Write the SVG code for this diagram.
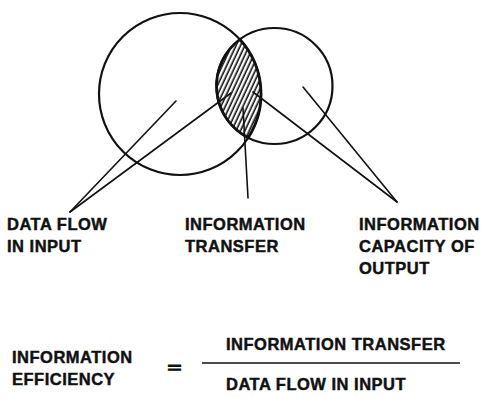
<svg xmlns="http://www.w3.org/2000/svg" width="484" height="398" viewBox="0 0 484 398">
<style>
  .lbl { font-family: "Liberation Sans", Arial, sans-serif; font-weight: bold; font-size: 16.5px; letter-spacing: 0.5px; fill: #111; stroke: #111; stroke-width: 0.45px; }
  .circ { fill: none; stroke: #111; stroke-width: 2.2; }
  .conn { stroke: #111; stroke-width: 1.6; fill: none; stroke-linecap: round; }
</style>
<defs>
  <pattern id="hatch" patternUnits="userSpaceOnUse" width="4" height="8" patternTransform="rotate(25)">
    <rect width="4" height="8" fill="#fff"/>
    <line x1="1.2" y1="0" x2="1.2" y2="8" stroke="#000" stroke-width="1.5"/>
  </pattern>
</defs>
<rect width="484" height="398" fill="#fff"/>
<g id="input-circle">
  <circle class="circ" cx="180" cy="94" r="81"/>
</g>
<g id="output-circle">
  <circle class="circ" cx="274.5" cy="86" r="58"/>
</g>
<g id="transfer-lens">
  <path d="M239.9 39.5 A81 81 0 0 1 248.2 137.7 A58 58 0 0 1 239.9 39.5 Z" fill="url(#hatch)" stroke="#111" stroke-width="2.8"/>
</g>
<g id="connectors">
  <line class="conn" x1="70" y1="212" x2="176" y2="101"/>
  <line class="conn" x1="70" y1="212" x2="231" y2="93"/>
  <line class="conn" x1="248" y1="198" x2="243" y2="108"/>
  <line class="conn" x1="397" y1="202" x2="303" y2="87"/>
  <line class="conn" x1="397" y1="202" x2="253" y2="92"/>
</g>
<g id="label-data-flow">
  <text class="lbl" x="7" y="230">DATA FLOW</text>
  <text class="lbl" x="7" y="252">IN INPUT</text>
</g>
<g id="label-transfer">
  <text class="lbl" x="185" y="230">INFORMATION</text>
  <text class="lbl" x="185" y="252">TRANSFER</text>
</g>
<g id="label-capacity">
  <text class="lbl" x="359" y="229.5">INFORMATION</text>
  <text class="lbl" x="359" y="251.5">CAPACITY OF</text>
  <text class="lbl" x="359" y="273.5">OUTPUT</text>
</g>
<g id="equation">
  <text class="lbl" x="12" y="362.5">INFORMATION</text>
  <text class="lbl" x="12" y="385">EFFICIENCY</text>
  <text class="lbl" transform="translate(174.5,372) scale(1.4,0.8)" x="0" y="0" text-anchor="middle" style="letter-spacing:0;stroke-width:1.2px">=</text>
  <text class="lbl" x="226" y="350">INFORMATION TRANSFER</text>
  <line x1="202" y1="363" x2="460" y2="363" stroke="#111" stroke-width="1.6"/>
  <text class="lbl" x="226" y="390">DATA FLOW IN INPUT</text>
</g>
</svg>
